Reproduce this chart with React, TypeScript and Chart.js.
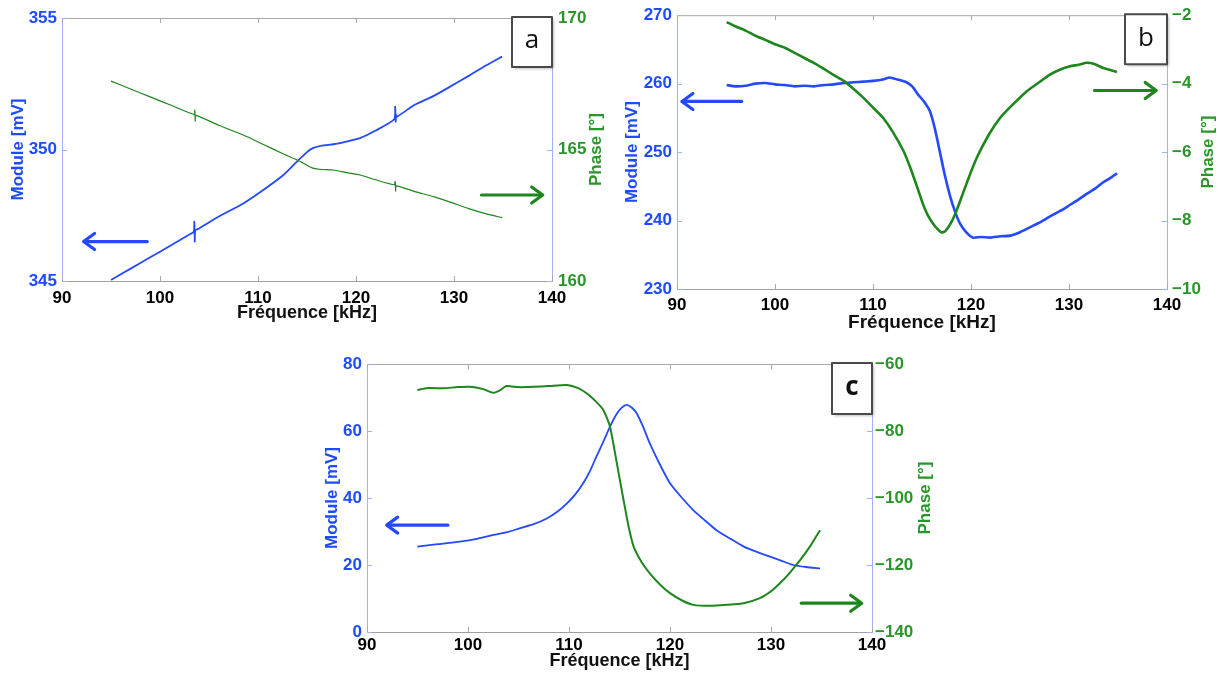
import React, { useEffect, useRef } from 'react';
import { Chart, registerables } from 'chart.js';

Chart.register(...registerables);

// ---------------- DATA ----------------
// Panel a
const freqModA = [95.0, 97, 99, 101, 103.0, 103.45, 103.5, 103.55, 103.6, 104, 106, 108.5, 110.5, 112.5, 114.0, 115.0, 115.6, 116.5, 117.7, 119, 120.4, 122, 123.9, 124.0, 124.05, 124.1, 124.2, 126, 128, 129.6, 131.5, 133.3, 134.9];
const modA = [345.04, 345.47, 345.9, 346.33, 346.77, 346.88, 347.25, 346.5, 346.92, 347.0, 347.45, 347.95, 348.45, 349.0, 349.55, 349.9, 350.05, 350.15, 350.2, 350.3, 350.43, 350.72, 351.15, 351.63, 351.06, 351.3, 351.25, 351.7, 352.05, 352.39, 352.8, 353.2, 353.53];
const freqPhA = [95.0, 97, 99, 101, 103.5, 103.55, 103.6, 103.65, 106, 108.5, 110.5, 112.5, 114.0, 115.0, 115.6, 116.5, 117.7, 119, 120.4, 122, 123.9, 124.0, 124.05, 124.1, 126, 128, 129.6, 131.5, 133.3, 134.9];
const phA = [167.6, 167.3, 167.0, 166.7, 166.33, 166.5, 166.08, 166.3, 165.92, 165.55, 165.2, 164.85, 164.6, 164.4, 164.29, 164.24, 164.22, 164.12, 164.03, 163.85, 163.66, 163.78, 163.42, 163.62, 163.4, 163.2, 163.0, 162.75, 162.55, 162.41];

// Panel b
const freqModB = [95.07, 96, 97, 98, 99, 100, 101, 102, 103, 104, 105, 106, 107, 108, 109, 110, 111, 111.7, 112.5, 113.4, 114, 114.6, 115.2, 115.8, 116.3, 116.8, 117.3, 117.9, 118.4, 118.9, 119.5, 120.2, 121, 122, 123, 124, 125, 126, 126.7, 127.5, 128.3, 129.1, 130, 131, 131.8, 132.7, 133.5, 134.2, 134.9];
const modB = [259.8, 259.6, 259.7, 260.0, 260.1, 259.9, 259.8, 259.6, 259.7, 259.6, 259.8, 259.9, 260.1, 260.2, 260.3, 260.4, 260.6, 260.9, 260.6, 260.2, 259.6, 258.4, 257.4, 256.0, 253.5, 250.2, 246.8, 243.4, 241.2, 239.5, 238.3, 237.5, 237.6, 237.5, 237.7, 237.8, 238.3, 239.0, 239.5, 240.1, 240.8, 241.4, 242.2, 243.1, 243.9, 244.7, 245.6, 246.2, 246.9];
const freqPhB = [95.07, 96, 97, 98, 99, 100, 101, 102, 103, 104, 105, 106, 107, 108, 109, 110, 111, 112, 113.1, 113.8, 114.6, 115.1, 115.6, 116.15, 116.6, 117.0, 117.4, 117.9, 118.4, 118.9, 119.7, 120.6, 121.8, 123, 124.3, 125.7, 127, 128.1, 129, 130.1, 131, 131.8, 132.5, 133.5, 134.2, 134.9];
const phB = [-2.2, -2.33, -2.45, -2.6, -2.72, -2.85, -2.95, -3.1, -3.25, -3.4, -3.57, -3.75, -3.92, -4.15, -4.41, -4.7, -4.99, -5.4, -5.96, -6.45, -7.1, -7.52, -7.85, -8.1, -8.25, -8.35, -8.3, -8.1, -7.8, -7.42, -6.8, -6.16, -5.5, -4.99, -4.6, -4.22, -3.95, -3.73, -3.6, -3.49, -3.45, -3.39, -3.42, -3.54, -3.6, -3.66];

// Panel c
const freqModC = [94.98, 97, 99.2, 101, 102.5, 104, 105.1, 106.5, 107.8, 108.8, 109.8, 110.6, 111.4, 112.1, 112.7, 113.4, 114.06, 114.7, 115.2, 115.7, 116.2, 116.7, 117.3, 118.0, 119.0, 120.0, 121.2, 122.3, 123.5, 124.6, 126, 127.3, 128.6, 129.9, 131, 132.2, 133.5, 134.85];
const modC = [25.5, 26.2, 26.96, 27.9, 28.96, 29.9, 30.95, 32.2, 33.9, 35.8, 38.4, 41.0, 44.4, 48.2, 52.3, 56.8, 61.3, 65.0, 66.9, 67.8, 67.0, 65.3, 61.5, 56.3, 50.0, 44.4, 40.0, 36.4, 33.2, 30.4, 27.8, 25.5, 23.9, 22.5, 21.3, 20.0, 19.4, 19.0];
const freqPhC = [94.98, 96, 97.55, 99, 100.2, 101.5, 102.5, 103.2, 103.8, 105, 106.5, 108, 109.8, 110.9, 111.75, 112.6, 113.4, 114.06, 114.7, 115.4, 115.9, 116.4, 117.2, 118.0, 119.0, 120.0, 121.2, 122.3, 124, 125.6, 127.3, 128.9, 130.1, 131.2, 132.0, 132.9, 133.9, 134.85];
const phC = [-67.8, -67.2, -67.25, -66.9, -66.8, -67.5, -68.6, -67.8, -66.6, -66.9, -66.8, -66.6, -66.3, -67.2, -68.75, -71.0, -73.7, -78.7, -89.0, -100.6, -108.5, -114.5, -119.2, -122.5, -125.8, -128.4, -130.6, -131.9, -132.2, -131.9, -131.4, -129.9, -127.6, -124.5, -121.8, -118.5, -114.3, -109.6];

// axis ranges / tick labels
const X_RANGE = [90, 140];
const X_STEP = 10;
const X_TITLE = 'Fréquence [kHz]';
const Y_TITLE = 'Module [mV]';
const Y1_TITLE = 'Phase [°]';

// arrows (annotation, data coordinates)
const ARROWS_A = [
  { axis: 'y', from: 98.7, to: 92.2, at: 346.5 },
  { axis: 'y1', from: 132.8, to: 139.05, at: 163.27 },
];
const ARROWS_B = [
  { axis: 'y', from: 96.6, to: 90.5, at: 257.4 },
  { axis: 'y1', from: 132.6, to: 138.9, at: -4.2 },
];
const ARROWS_C = [
  { axis: 'y', from: 98.0, to: 91.95, at: 31.9 },
  { axis: 'y1', from: 133.0, to: 138.98, at: -131.4 },
];

// ---------------- STYLE ----------------
const BLUE = '#2449ff';
const BLUE_TXT = '#1f4bff';
const GREEN = '#1d861d';
const GREEN_TXT = '#2a962a';
const FONT = '"Liberation Sans", Arial, sans-serif';

const pts = (xs: number[], ys: number[]) => xs.map((x, i) => ({ x, y: ys[i] }));
const fmt = (v: number) => (v < 0 ? '\u2212' + Math.abs(v) : String(v));

type PanelCfg = {
  id: string;
  left: number; top: number; width: number; height: number;
  padTop: number; yW: number; y1W: number; xH: number;
  yMin: number; yMax: number; yStep: number;
  y1Min: number; y1Max: number; y1Step: number;
  mod: { x: number; y: number }[]; ph: { x: number; y: number }[];
  modW: number; phW: number;
  arrows: { axis: string; from: number; to: number; at: number }[];
  letter: string; letterWeight: string; boxW: number; boxH: number;
  tickSize: number; titleSize: number; xTitleSize: number;
  yPad: number; yTitlePad: number; y1Pad: number; y1TitleOff: number; xPad: number; xTitlePad: number;
};

const PANELS: PanelCfg[] = [
  {
    id: 'a', left: 0, top: 0, width: 610, height: 330,
    padTop: 18, yW: 62, y1W: 58, xH: 49,
    yMin: 345, yMax: 355, yStep: 5, y1Min: 160, y1Max: 170, y1Step: 5,
    mod: pts(freqModA, modA), ph: pts(freqPhA, phA), modW: 1.8, phW: 1.2,
    arrows: ARROWS_A, letter: 'a', letterWeight: 'normal', boxW: 40, boxH: 50,
    tickSize: 17, titleSize: 17, xTitleSize: 18,
    yPad: 5, yTitlePad: 8, y1Pad: 6, y1TitleOff: 14, xPad: 7, xTitlePad: 6,
  },
  {
    id: 'b', left: 610, top: 0, width: 610, height: 340,
    padTop: 14, yW: 67, y1W: 53, xH: 51,
    yMin: 230, yMax: 270, yStep: 10, y1Min: -10, y1Max: -2, y1Step: 2,
    mod: pts(freqModB, modB), ph: pts(freqPhB, phB), modW: 2.6, phW: 2.6,
    arrows: ARROWS_B, letter: 'b', letterWeight: 'normal', boxW: 42, boxH: 50,
    tickSize: 17, titleSize: 17, xTitleSize: 19,
    yPad: 5, yTitlePad: 12, y1Pad: 5, y1TitleOff: 12, xPad: 6, xTitlePad: 6,
  },
  {
    id: 'c', left: 310, top: 340, width: 630, height: 337,
    padTop: 24, yW: 57, y1W: 68, xH: 45,
    yMin: 0, yMax: 80, yStep: 20, y1Min: -140, y1Max: -60, y1Step: 20,
    mod: pts(freqModC, modC), ph: pts(freqPhC, phC), modW: 1.8, phW: 2.0,
    arrows: ARROWS_C, letter: 'c', letterWeight: 'bold', boxW: 40, boxH: 51,
    tickSize: 17, titleSize: 17, xTitleSize: 18,
    yPad: 5, yTitlePad: 12, y1Pad: 3, y1TitleOff: 15, xPad: 3, xTitlePad: 5,
  },
];

function makePlugin(cfg: PanelCfg) {
  return {
    id: 'deco-' + cfg.id,
    beforeDatasetsDraw(chart: any) {
      const ctx = chart.ctx;
      const { left, right, top, bottom } = chart.chartArea;
      ctx.save();
      ctx.strokeStyle = '#a8a8a8';
      ctx.lineWidth = 1;
      ctx.beginPath();
      ctx.moveTo(left, top + 0.5);
      ctx.lineTo(right, top + 0.5);
      ctx.stroke();
      const xs = chart.scales.x;
      xs.ticks.forEach((t: any) => {
        const px = Math.round(xs.getPixelForValue(t.value)) + 0.5;
        ctx.beginPath();
        ctx.moveTo(px, bottom);
        ctx.lineTo(px, bottom - 5);
        ctx.moveTo(px, top);
        ctx.lineTo(px, top + 5);
        ctx.stroke();
      });
      ctx.strokeStyle = '#9fb2ff';
      const ys = chart.scales.y;
      ys.ticks.forEach((t: any) => {
        const py = Math.round(ys.getPixelForValue(t.value)) + 0.5;
        ctx.beginPath();
        ctx.moveTo(left, py);
        ctx.lineTo(left + 5, py);
        ctx.stroke();
      });
      const y1 = chart.scales.y1;
      y1.ticks.forEach((t: any) => {
        const py = Math.round(y1.getPixelForValue(t.value)) + 0.5;
        ctx.beginPath();
        ctx.moveTo(right, py);
        ctx.lineTo(right - 5, py);
        ctx.stroke();
      });
      ctx.restore();
    },
    afterDraw(chart: any) {
      const ctx = chart.ctx;
      const { right, top, bottom } = chart.chartArea;
      const xs = chart.scales.x;
      ctx.save();
      // right axis title, reading bottom-to-top
      ctx.save();
      ctx.translate(chart.width - cfg.y1TitleOff, (top + bottom) / 2);
      ctx.rotate(-Math.PI / 2);
      ctx.fillStyle = GREEN_TXT;
      ctx.font = `bold ${cfg.titleSize}px ${FONT}`;
      ctx.textAlign = 'center';
      ctx.textBaseline = 'middle';
      ctx.fillText(Y1_TITLE, 0, 0);
      ctx.restore();
      // arrows
      cfg.arrows.forEach((a) => {
        const sc = chart.scales[a.axis];
        const x1 = xs.getPixelForValue(a.from);
        const x2 = xs.getPixelForValue(a.to);
        const y = sc.getPixelForValue(a.at);
        const color = a.axis === 'y' ? BLUE : GREEN;
        const dir = x2 > x1 ? 1 : -1;
        ctx.strokeStyle = color;
        ctx.lineWidth = 3.2;
        ctx.lineCap = 'round';
        ctx.lineJoin = 'round';
        ctx.beginPath();
        ctx.moveTo(x1, y);
        ctx.lineTo(x2 - dir * 1, y);
        ctx.stroke();
        ctx.beginPath();
        ctx.moveTo(x2 - dir * 11, y - 8);
        ctx.lineTo(x2, y);
        ctx.lineTo(x2 - dir * 11, y + 8);
        ctx.stroke();
      });
      // letter box
      const bx = right - cfg.boxW;
      const by = top - 1;
      ctx.shadowColor = 'rgba(0,0,0,0.35)';
      ctx.shadowBlur = 3;
      ctx.shadowOffsetX = 1.5;
      ctx.shadowOffsetY = 1.5;
      ctx.fillStyle = '#ffffff';
      ctx.fillRect(bx, by, cfg.boxW, cfg.boxH);
      ctx.shadowColor = 'transparent';
      ctx.strokeStyle = '#4a4a4a';
      ctx.lineWidth = 2;
      ctx.strokeRect(bx, by, cfg.boxW, cfg.boxH);
      ctx.fillStyle = '#111';
      ctx.font = `${cfg.letterWeight} 26px "Open Sans", "Noto Sans", sans-serif`;
      ctx.textAlign = 'center';
      ctx.textBaseline = 'middle';
      ctx.fillText(cfg.letter, bx + cfg.boxW / 2, by + cfg.boxH / 2 - 1);
      ctx.restore();
    },
  };
}

function Panel({ cfg }: { cfg: PanelCfg }) {
  const ref = useRef<HTMLCanvasElement | null>(null);
  useEffect(() => {
    if (!ref.current) return;
    const chart = new Chart(ref.current, {
      type: 'line',
      data: {
        datasets: [
          {
            label: 'Phase',
            data: cfg.ph,
            yAxisID: 'y1',
            borderColor: GREEN,
            borderWidth: cfg.phW,
            pointRadius: 0,
            tension: 0.2,
            fill: false,
          },
          {
            label: 'Module',
            data: cfg.mod,
            yAxisID: 'y',
            borderColor: BLUE,
            borderWidth: cfg.modW,
            pointRadius: 0,
            tension: 0.2,
            fill: false,
          },
        ],
      },
      options: {
        animation: false,
        responsive: false,
        maintainAspectRatio: false,
        parsing: false as any,
        layout: { padding: { top: cfg.padTop, left: 0, right: 0, bottom: 0 } },
        plugins: { legend: { display: false }, tooltip: { enabled: false } },
        scales: {
          x: {
            type: 'linear',
            min: X_RANGE[0],
            max: X_RANGE[1],
            ticks: {
              stepSize: X_STEP,
              color: '#000',
              font: { family: FONT, size: cfg.tickSize, weight: 'bold' },
              padding: cfg.xPad,
              maxRotation: 0,
              autoSkip: false,
            },
            grid: { display: false, drawTicks: false },
            border: { color: '#a0a0a0', width: 1 },
            title: {
              display: true,
              text: X_TITLE,
              color: '#111',
              font: { family: FONT, size: cfg.xTitleSize, weight: 'bold' },
              padding: { top: 0, bottom: cfg.xTitlePad },
            },
            afterFit: (s: any) => { s.height = cfg.xH; },
          },
          y: {
            type: 'linear',
            position: 'left',
            min: cfg.yMin,
            max: cfg.yMax,
            ticks: {
              stepSize: cfg.yStep,
              color: BLUE_TXT,
              font: { family: FONT, size: cfg.tickSize, weight: 'bold' },
              padding: cfg.yPad,
              autoSkip: false,
              callback: (v: any) => fmt(Number(v)),
            },
            grid: { display: false, drawTicks: false },
            border: { color: '#9fb2ff', width: 1 },
            title: {
              display: true,
              text: Y_TITLE,
              color: BLUE_TXT,
              font: { family: FONT, size: cfg.titleSize, weight: 'bold' },
              padding: { top: cfg.yTitlePad, bottom: 0 },
            },
            afterFit: (s: any) => { s.width = cfg.yW; },
          },
          y1: {
            type: 'linear',
            position: 'right',
            min: cfg.y1Min,
            max: cfg.y1Max,
            ticks: {
              stepSize: cfg.y1Step,
              color: GREEN_TXT,
              font: { family: FONT, size: cfg.tickSize, weight: 'bold' },
              padding: cfg.y1Pad,
              autoSkip: false,
              callback: (v: any) => fmt(Number(v)),
            },
            grid: { display: false, drawTicks: false },
            border: { color: '#9fb2ff', width: 1 },
            title: { display: false },
            afterFit: (s: any) => { s.width = cfg.y1W; },
          },
        },
      } as any,
      plugins: [makePlugin(cfg) as any],
    });
    return () => chart.destroy();
  }, [cfg]);
  return (
    <canvas
      ref={ref}
      width={cfg.width}
      height={cfg.height}
      style={{ position: 'absolute', left: cfg.left, top: cfg.top, width: cfg.width, height: cfg.height }}
    />
  );
}

export default function App() {
  return (
    <div style={{ position: 'absolute', left: 0, top: 0, width: 1220, height: 677, background: '#fff', overflow: 'hidden' }}>
      {PANELS.map((p) => (
        <Panel key={p.id} cfg={p} />
      ))}
    </div>
  );
}
